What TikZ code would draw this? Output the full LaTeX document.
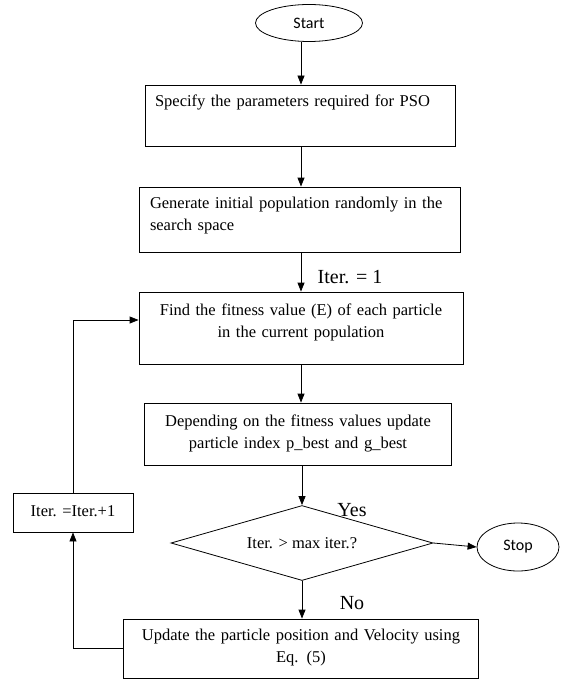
\documentclass[tikz,border=0pt]{standalone}
\usepackage{fontspec}
\setmainfont{Liberation Serif}
\newfontfamily\termfont{Carlito}
\usetikzlibrary{shapes.geometric,arrows.meta}

\begin{document}
\begin{tikzpicture}
[x=1pt,y=-1pt,
  lineDecorate/.style={line width=0.8pt,-{Triangle[length=9pt,width=7pt]}},
  boxDecorate/.style={shape=rectangle,draw,line width=0.8pt,inner sep=0pt,
    text height=12pt,font=\fontsize{16.5}{22}\selectfont},
  termDecorate/.style={shape=ellipse,draw,line width=0.8pt,inner sep=0pt,
    font=\termfont\fontsize{16}{19}\selectfont},
  testDecorate/.style={shape=diamond,draw,line width=0.8pt,inner sep=0pt,
    aspect=3.5,font=\fontsize{16.5}{20}\selectfont},
  labelDecorate/.style={inner sep=0pt,font=\fontsize{20}{24}\selectfont}]
\useasboundingbox (0,0) rectangle (560,679);
%% nodes or steps
\node (start) at (309,23) [termDecorate,minimum width=107pt,minimum height=37pt] {Start};
\node (param) at (300,115.5) [boxDecorate,minimum width=310pt,minimum height=61pt,
  text width=290pt,align=left,text depth=30pt] {Specify the parameters required for PSO};
\node (init) at (300,219.5) [boxDecorate,minimum width=321pt,minimum height=65pt,
  text width=300pt,align=left,text depth=35pt] {Generate initial population randomly in the\\ search space};
\node (fit) at (301,328) [boxDecorate,minimum width=324pt,minimum height=72pt,
  text width=310pt,align=center,text depth=38pt] {Find the fitness value (E) of each particle\\ in the current population};
\node (best) at (298,434) [boxDecorate,minimum width=307pt,minimum height=62pt,
  text width=300pt,align=center,text depth=27pt] {Depending on the fitness values update\\ particle index p\_best and g\_best};
\node (test) at (302,543) [testDecorate,minimum width=262pt,minimum height=75pt] {Iter. > max iter.?};
\node (stop) at (518,547) [termDecorate,minimum width=82pt,minimum height=48pt] {Stop};
\node (move) at (301,648.5) [boxDecorate,minimum width=355pt,minimum height=59pt,
  text width=345pt,align=center,text depth=28pt] {Update the particle position and Velocity using\\ Eq. (5)};
\node (incr) at (73,512.5) [boxDecorate,minimum width=120pt,minimum height=39pt,
  text height=11pt,text depth=4pt] {Iter. =Iter.+1};
%% labels
\node (iterone) at (350,277) [labelDecorate] {Iter. = 1};
\node (yes) at (352,510) [labelDecorate] {Yes};
\node (no) at (352,603) [labelDecorate] {No};
%% connectors
\draw[lineDecorate] (start.south -| 301,0) -- (param.north -| 301,0);
\draw[lineDecorate] (param.south -| 301,0) -- (init.north -| 301,0);
\draw[lineDecorate] (init.south -| 301,0) -- (fit.north -| 301,0);
\draw[lineDecorate] (fit.south -| 301,0) -- (best.north -| 301,0);
\draw[lineDecorate] (best.south -| 302,0) -- (test.north);
\draw[lineDecorate] (test.east) -- (stop.west);
\draw[lineDecorate] (test.south) -- (move.north -| test.south);
\draw[lineDecorate] (move.west) -- (move.west -| incr.south) -- (incr.south);
\draw[lineDecorate] (incr.north) -- (incr.north |- 0,320) -- (fit.west |- 0,320);
\end{tikzpicture}
\end{document}
